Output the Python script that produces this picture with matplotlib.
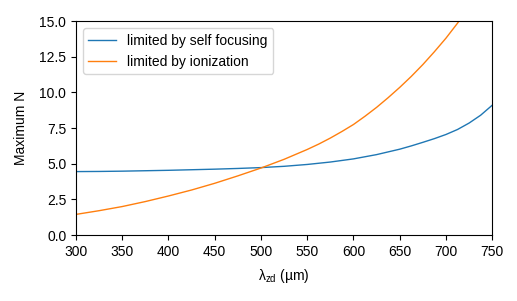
import matplotlib
matplotlib.use("Agg")
import matplotlib.pyplot as plt

# values
wavelength_sf = [300, 325, 350, 375, 400, 425, 450, 475, 500, 525, 550, 575,
                 600, 625, 650, 662.5, 675, 687.5, 700, 712.5, 725, 737.5, 750]
n_self_focusing = [4.45, 4.46, 4.48, 4.51, 4.54, 4.58, 4.62, 4.67, 4.73, 4.82,
                   4.95, 5.12, 5.34, 5.64, 6.02, 6.25, 6.50, 6.76, 7.05, 7.40,
                   7.85, 8.40, 9.10]

wavelength_ion = [300, 325, 350, 375, 400, 425, 450, 475, 500, 525, 550, 562.5,
                  575, 587.5, 600, 612.5, 625, 637.5, 650, 662.5, 675, 687.5,
                  700, 712.5, 725]
n_ionization = [1.45, 1.71, 2.00, 2.35, 2.74, 3.16, 3.63, 4.15, 4.70, 5.31,
                6.00, 6.38, 6.80, 7.26, 7.75, 8.33, 8.95, 9.63, 10.35, 11.12,
                11.95, 12.85, 13.80, 14.85, 16.00]

plt.rcParams['font.family'] = ['Liberation Sans', 'DejaVu Sans']
plt.rcParams['mathtext.fontset'] = 'custom'
plt.rcParams['mathtext.rm'] = 'Liberation Sans'
plt.rcParams['font.size'] = 10

fig = plt.figure(figsize=(5.17, 3.01), dpi=100)
ax = fig.add_axes([0.147, 0.219, 0.805, 0.711])

ax.plot(wavelength_sf, n_self_focusing, color='#1f77b4', lw=1,
        label='limited by self focusing')
ax.plot(wavelength_ion, n_ionization, color='#ff7f0e', lw=1,
        label='limited by ionization')

ax.set_xlim(300, 750)
ax.set_ylim(0, 15)
ax.set_xticks(range(300, 751, 50))
ax.set_yticks([0, 2.5, 5, 7.5, 10, 12.5, 15])
ax.set_yticklabels(['0.0', '2.5', '5.0', '7.5', '10.0', '12.5', '15.0'])
ax.set_xlabel(r'λ$_{\rm zd}$ (µm)', labelpad=6)
ax.set_ylabel('Maximum N', labelpad=8)
for s in ax.spines.values():
    s.set_linewidth(0.8)
ax.legend(loc='upper left')

fig.savefig('out.png', dpi=100)
